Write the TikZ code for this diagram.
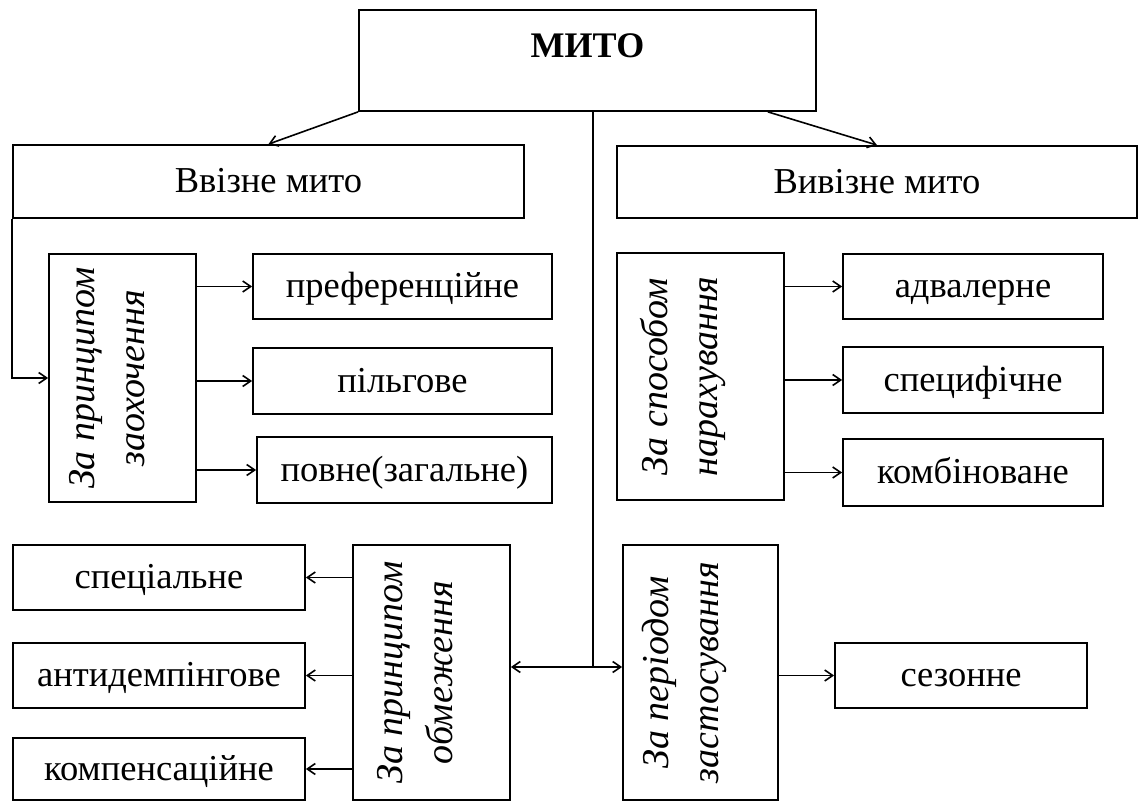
\documentclass[tikz,border=0pt]{standalone}
\usepackage{fontspec}
\setmainfont{Liberation Serif}
\usepackage{tikz}
\usetikzlibrary{arrows.meta,positioning,calc}

\tikzset{
  box/.style={draw, line width=1.8pt, inner sep=0pt, text height=28pt, text depth=5pt,
    font=\fontsize{36.5}{44}\selectfont},
  vtext/.style={rotate=90, align=center, font=\fontsize{38}{50}\selectfont\itshape},
  arr/.style={line width=1.6pt, -{Straight Barb[length=8pt,width=11pt]}},
  link/.style={line width=1.8pt}
}

\begin{document}
\begin{tikzpicture}[x=1pt,y=1pt]
\useasboundingbox (0,0) rectangle (1140,803);

% Top
\node[box, minimum width=457, minimum height=101] (mito) at (587.5,742.5) {};
\node[below=21pt of mito.north, font=\fontsize{36}{42}\selectfont\bfseries] (mitotext) {МИТО};

% Import / export
\node[box, minimum width=511, minimum height=73] (vviz) at (268.5,621.5) {Ввізне мито};
\node[box, minimum width=520, minimum height=72] (vyviz) at (877,621) {Вивізне мито};

% Incentive group
\node[box, minimum width=147, minimum height=248] (zaoh) at (122.5,425) {};
\node[vtext] (zaohtext) at ([xshift=-15pt]zaoh.center) {За принципом\\заохочення};
\node[box, minimum width=299, minimum height=65] (pref) at (402.5,516.5) {преференційне};
\node[box, minimum width=299, minimum height=66] (pilh) at (402.5,422) {пільгове};
\node[box, minimum width=295, minimum height=66] (povne) at (404.5,333) {повне(загальне)};

% Charging group
\node[box, minimum width=167, minimum height=247] (sposib) at (700.5,426.5) {};
\node[vtext] (sposibtext) at ([xshift=-18pt]sposib.center) {За способом\\нарахування};
\node[box, minimum width=260, minimum height=65] (adval) at (973,516.5) {адвалерне};
\node[box, minimum width=260, minimum height=66] (specyf) at (973,423) {специфічне};
\node[box, minimum width=260, minimum height=67] (komb) at (973,330.5) {комбіноване};

% Restriction group
\node[box, minimum width=157, minimum height=255] (obmezh) at (431.5,130.5) {};
\node[vtext] (obmezhtext) at ([xshift=-16pt]obmezh.center) {За принципом\\обмеження};
\node[box, minimum width=292, minimum height=65] (special) at (159,225.5) {спеціальне};
\node[box, minimum width=292, minimum height=65] (antydemp) at (159,127.5) {антидемпінгове};
\node[box, minimum width=292, minimum height=62] (kompens) at (159,34) {компенсаційне};

% Period group
\node[box, minimum width=155, minimum height=255] (period) at (700.5,130.5) {};
\node[vtext] (periodtext) at ([xshift=-16pt]period.center) {За періодом\\застосування};
\node[box, minimum width=252, minimum height=65] (sezon) at (961,127.5) {сезонне};

% Connectors from the top
\draw[arr] (mito.south west) -- (vviz.north);
\draw[arr] ([xshift=-49pt]mito.south east) -- (vyviz.north);
\coordinate (hub) at (593,136);
\draw[link] (mito.south -| hub) -- (hub);
\draw[arr] (hub) -- (obmezh.east |- hub);
\draw[arr] (hub) -- (period.west |- hub);
\draw[arr] (vviz.south west) |- (zaoh.west);

% Branches
\foreach \t in {pref,pilh,povne}
    \draw[arr] (zaoh.east |- \t.west) -- (\t.west);
\foreach \t in {adval,specyf,komb}
    \draw[arr] (sposib.east |- \t.west) -- (\t.west);
\foreach \t in {special,antydemp,kompens}
    \draw[arr] (obmezh.west |- \t.east) -- (\t.east);
\draw[arr] (period.east |- sezon.west) -- (sezon.west);
\end{tikzpicture}
\end{document}
